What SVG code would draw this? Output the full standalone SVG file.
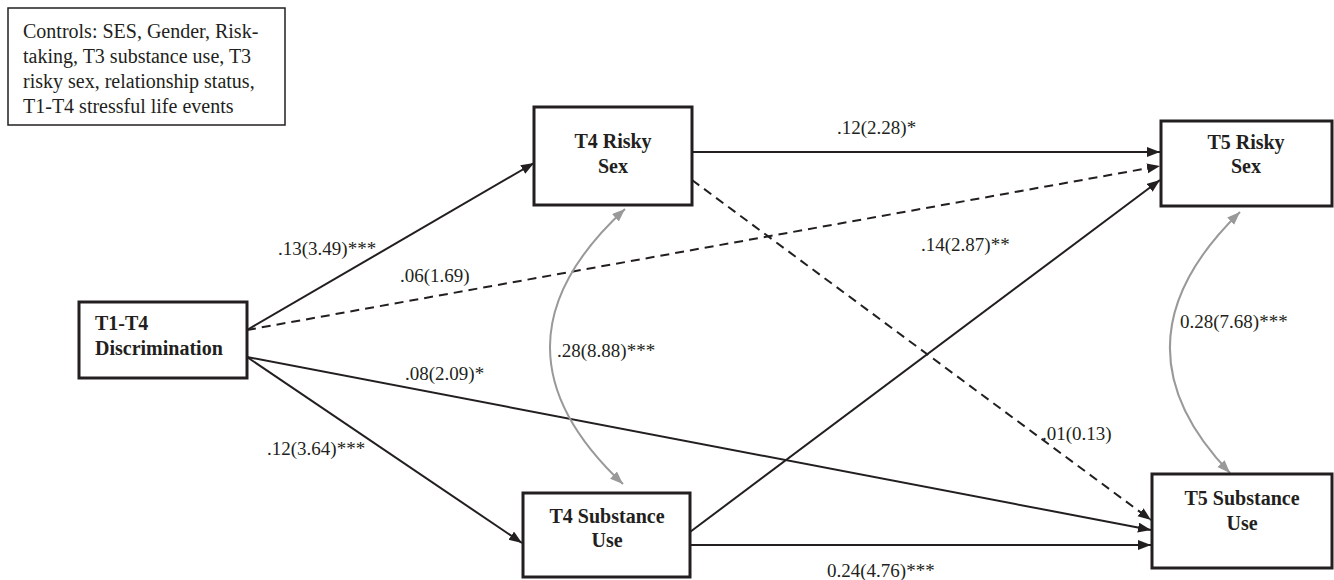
<svg xmlns="http://www.w3.org/2000/svg" width="1334" height="580" viewBox="0 0 1334 580">
<style>
.box{fill:#fff;stroke:#231f20;stroke-width:3}
.ctl{fill:#fff;stroke:#231f20;stroke-width:1.5}
.nt{font-family:"Liberation Serif","Times New Roman",serif;font-weight:bold;font-size:20px;fill:#231f20}
.ct{font-family:"Liberation Serif","Times New Roman",serif;font-size:20px;fill:#231f20}
.lb{font-family:"Liberation Serif","Times New Roman",serif;font-size:19px;fill:#231f20}
.ln{fill:none;stroke:#231f20;stroke-width:2;marker-end:url(#ah)}
.dash{stroke-dasharray:9 6}
.cv{fill:none;stroke:#999;stroke-width:2;marker-start:url(#gh);marker-end:url(#gh)}
</style>
<defs>
<marker id="ah" markerUnits="userSpaceOnUse" markerWidth="14" markerHeight="12" refX="13" refY="5" orient="auto"><path d="M0,0 L13,5 L0,10 z" fill="#231f20"/></marker>
<marker id="gh" markerUnits="userSpaceOnUse" markerWidth="14" markerHeight="12" refX="13" refY="5" orient="auto-start-reverse"><path d="M0,0 L13,5 L0,10 z" fill="#999"/></marker>
</defs>
<rect width="1334" height="580" fill="#fff"/>
<g id="controls">
<rect class="ctl" x="8" y="8" width="277" height="117"/>
<text class="ct" x="23" y="38">Controls: SES, Gender, Risk-</text>
<text class="ct" x="23" y="63">taking, T3 substance use, T3</text>
<text class="ct" x="23" y="88">risky sex, relationship status,</text>
<text class="ct" x="23" y="113">T1-T4 stressful life events</text>
</g>
<g id="connectors">
<path class="ln" d="M247,330 L534,163"/>
<path class="ln dash" d="M247,330 L1160,166"/>
<path class="ln" d="M692,152 L1160,152"/>
<path class="ln dash" d="M692,180 L1151,520"/>
<path class="ln" d="M247,357 L1151,530"/>
<path class="ln" d="M247,357 L522,543"/>
<path class="ln" d="M690,532 L1160,180"/>
<path class="ln" d="M690,545 L1151,545"/>
<path class="cv" d="M625,209 Q476,346 623,484"/>
<path class="cv" d="M1240,212 Q1105,343 1230,473"/>
<text class="lb" x="278" y="255">.13(3.49)***</text>
<text class="lb" x="400" y="282">.06(1.69)</text>
<text class="lb" x="837" y="134">.12(2.28)*</text>
<text class="lb" x="405" y="380">.08(2.09)*</text>
<text class="lb" x="267" y="455">.12(3.64)***</text>
<text class="lb" x="557" y="357">.28(8.88)***</text>
<text class="lb" x="921" y="251">.14(2.87)**</text>
<text class="lb" x="1042" y="440">.01(0.13)</text>
<text class="lb" x="1180" y="328">0.28(7.68)***</text>
<text class="lb" x="827" y="577">0.24(4.76)***</text>
</g>
<g id="disc">
<rect class="box" x="79" y="302" width="168" height="76"/>
<text class="nt" x="95" y="330">T1-T4</text>
<text class="nt" x="95" y="355">Discrimination</text>
</g>
<g id="t4risky">
<rect class="box" x="534" y="107" width="158" height="98"/>
<text class="nt" x="613" y="148" text-anchor="middle">T4 Risky</text>
<text class="nt" x="613" y="173" text-anchor="middle">Sex</text>
</g>
<g id="t4sub">
<rect class="box" x="523" y="493" width="167" height="84"/>
<text class="nt" x="607" y="523" text-anchor="middle">T4 Substance</text>
<text class="nt" x="607" y="547" text-anchor="middle">Use</text>
</g>
<g id="t5risky">
<rect class="box" x="1161" y="121" width="171" height="85"/>
<text class="nt" x="1246" y="149" text-anchor="middle">T5 Risky</text>
<text class="nt" x="1246" y="173" text-anchor="middle">Sex</text>
</g>
<g id="t5sub">
<rect class="box" x="1152" y="474" width="180" height="94"/>
<text class="nt" x="1242" y="505" text-anchor="middle">T5 Substance</text>
<text class="nt" x="1242" y="530" text-anchor="middle">Use</text>
</g>
</svg>
